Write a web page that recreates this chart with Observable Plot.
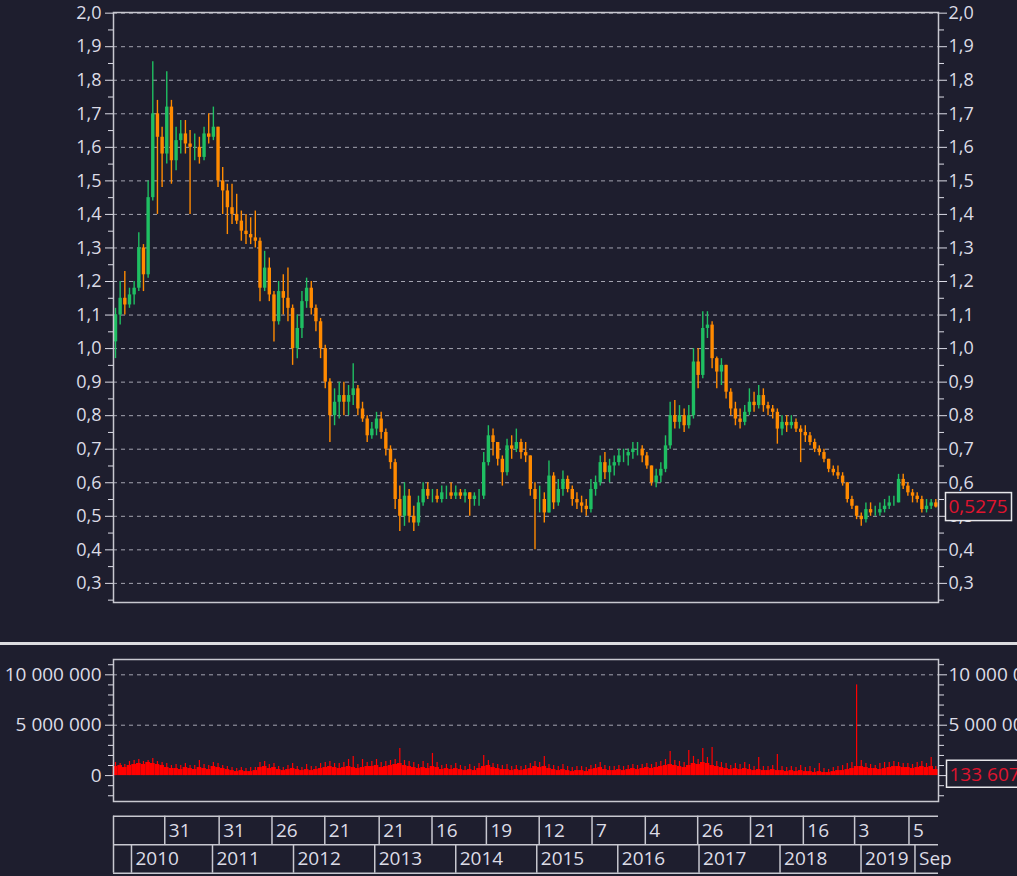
<!DOCTYPE html>
<html><head><meta charset="utf-8">
<script src="https://cdn.jsdelivr.net/npm/d3@7"></script>
<script src="https://cdn.jsdelivr.net/npm/@observablehq/plot@0.6"></script>
<style>
html,body{margin:0;padding:0;background:#1e1e2e;overflow:hidden;}
#root{position:relative;width:1017px;height:876px;background:#1e1e2e;overflow:hidden;}
#root svg{position:absolute;left:0;}
.sep{position:absolute;left:0;top:642px;width:1017px;height:3px;background:#dcdce0;}
</style></head>
<body><div id="root"><div class="sep"></div></div>
<script>
// ---------- data ----------
const startDate = "2009-10-21";   // first bar (3-week bars)
const stepDays = 21;
const open0 = 1.02;
const close = [
1.10,1.15,1.13,1.16,1.18,1.30,1.22,1.45,1.70,1.63,
1.58,1.72,1.56,1.62,1.64,1.61,1.60,1.60,1.57,1.64,
1.63,1.66,1.50,1.47,1.42,1.40,1.38,1.35,1.34,1.33,
1.32,1.18,1.24,1.16,1.08,1.17,1.15,1.12,1.00,1.06,
1.14,1.18,1.12,1.08,1.00,0.90,0.80,0.84,0.86,0.84,
0.86,0.88,0.82,0.79,0.74,0.76,0.79,0.75,0.70,0.66,
0.55,0.50,0.56,0.50,0.48,0.54,0.58,0.56,0.56,0.55,
0.57,0.57,0.56,0.57,0.56,0.57,0.55,0.56,0.56,0.66,
0.74,0.72,0.67,0.63,0.71,0.70,0.72,0.69,0.68,0.58,
0.55,0.55,0.51,0.62,0.54,0.58,0.61,0.58,0.55,0.54,
0.53,0.52,0.58,0.60,0.66,0.63,0.65,0.66,0.68,0.68,
0.69,0.70,0.70,0.68,0.65,0.60,0.62,0.64,0.71,0.80,
0.78,0.80,0.77,0.80,0.96,0.92,1.06,1.07,0.97,0.93,
0.95,0.87,0.82,0.79,0.78,0.81,0.84,0.83,0.86,0.83,
0.82,0.81,0.76,0.78,0.77,0.78,0.76,0.75,0.74,0.72,
0.70,0.69,0.67,0.64,0.63,0.62,0.60,0.55,0.53,0.50,
0.49,0.52,0.51,0.51,0.52,0.53,0.54,0.54,0.61,0.59,
0.57,0.56,0.55,0.52,0.53,0.54,0.5275];
const high = [
1.12,1.20,1.23,1.18,1.20,1.345,1.31,1.50,1.855,1.74,
1.66,1.825,1.74,1.66,1.68,1.68,1.65,1.64,1.63,1.66,
1.70,1.72,1.66,1.54,1.49,1.49,1.46,1.41,1.40,1.39,
1.41,1.33,1.29,1.27,1.17,1.20,1.22,1.24,1.13,1.10,
1.17,1.21,1.20,1.13,1.09,1.01,0.91,0.88,0.90,0.90,
0.89,0.955,0.89,0.84,0.80,0.78,0.81,0.81,0.76,0.71,
0.67,0.59,0.60,0.58,0.53,0.56,0.60,0.60,0.58,0.58,
0.59,0.59,0.60,0.59,0.58,0.58,0.57,0.57,0.58,0.69,
0.77,0.76,0.72,0.68,0.73,0.74,0.76,0.73,0.72,0.68,
0.60,0.59,0.57,0.665,0.63,0.61,0.635,0.62,0.59,0.57,
0.56,0.55,0.61,0.62,0.68,0.69,0.67,0.68,0.70,0.70,
0.70,0.72,0.72,0.71,0.69,0.65,0.64,0.66,0.74,0.84,
0.845,0.83,0.82,0.83,1.00,1.00,1.11,1.11,1.08,0.975,
0.97,0.95,0.88,0.84,0.82,0.83,0.88,0.87,0.89,0.88,
0.84,0.83,0.82,0.80,0.80,0.80,0.79,0.77,0.77,0.75,
0.73,0.71,0.70,0.67,0.65,0.65,0.63,0.60,0.56,0.53,
0.51,0.54,0.54,0.53,0.54,0.55,0.56,0.56,0.625,0.625,
0.60,0.58,0.57,0.56,0.55,0.55,0.55];
const low = [
0.97,1.07,1.10,1.12,1.13,1.17,1.17,1.21,1.44,1.40,
1.48,1.55,1.49,1.53,1.58,1.58,1.40,1.56,1.55,1.56,
1.61,1.62,1.48,1.40,1.34,1.37,1.37,1.32,1.31,1.31,
1.30,1.14,1.17,1.14,1.02,1.07,1.10,1.08,0.95,0.97,
1.03,1.12,1.10,1.05,0.97,0.88,0.72,0.77,0.79,0.80,
0.80,0.83,0.80,0.78,0.72,0.73,0.74,0.73,0.68,0.64,
0.52,0.455,0.47,0.48,0.455,0.47,0.53,0.55,0.54,0.54,
0.54,0.55,0.55,0.55,0.55,0.54,0.50,0.53,0.53,0.55,
0.65,0.68,0.65,0.59,0.62,0.67,0.69,0.67,0.66,0.56,
0.40,0.51,0.48,0.51,0.52,0.53,0.56,0.57,0.53,0.52,
0.51,0.50,0.51,0.56,0.59,0.61,0.60,0.62,0.65,0.66,
0.65,0.67,0.68,0.66,0.64,0.59,0.585,0.60,0.63,0.70,
0.76,0.76,0.75,0.76,0.79,0.88,0.91,1.03,0.94,0.88,
0.89,0.85,0.80,0.77,0.76,0.77,0.80,0.81,0.82,0.81,
0.80,0.79,0.715,0.74,0.75,0.76,0.75,0.66,0.72,0.71,
0.69,0.68,0.66,0.63,0.62,0.61,0.59,0.54,0.52,0.49,
0.47,0.48,0.50,0.50,0.50,0.51,0.52,0.53,0.54,0.58,
0.56,0.54,0.54,0.51,0.51,0.52,0.525];
// volume, millions of shares: typical level and highest day in each bar
const volume = [
0.9,1.0,0.8,1.0,1.1,1.2,1.1,1.3,1.2,1.1,
1.0,0.8,0.7,0.7,0.6,0.8,0.7,0.6,0.8,0.7,
0.6,0.9,0.8,0.7,0.6,0.5,0.4,0.5,0.4,0.4,
0.5,0.8,0.9,0.7,0.8,0.6,0.5,0.6,0.7,0.6,
0.5,0.6,0.5,0.6,0.7,0.8,0.9,0.8,0.7,0.8,
0.9,0.8,0.7,0.8,0.9,0.9,1.0,0.8,0.9,1.0,
1.1,1.2,1.0,0.9,0.8,0.7,0.8,0.7,0.9,0.8,
0.6,0.7,0.6,0.7,0.6,0.5,0.6,0.5,0.7,0.9,
1.0,0.8,0.7,0.6,0.6,0.5,0.6,0.5,0.6,0.7,
0.9,0.8,0.9,0.7,0.6,0.5,0.6,0.5,0.4,0.5,
0.5,0.4,0.6,0.7,0.8,0.6,0.5,0.5,0.6,0.5,
0.6,0.7,0.6,0.7,0.8,0.7,0.8,0.9,1.0,1.1,
1.0,0.9,0.8,1.0,1.2,1.1,1.3,1.2,1.0,0.9,
0.8,0.7,0.6,0.7,0.6,0.7,0.6,0.5,0.6,0.5,
0.5,0.6,0.5,0.5,0.4,0.5,0.4,0.5,0.4,0.4,
0.3,0.4,0.3,0.3,0.4,0.5,0.5,0.6,0.7,0.9,
0.9,0.8,0.7,0.7,0.6,0.7,0.8,0.9,0.9,0.8,
0.8,0.7,0.8,0.9,0.8,0.9,0.6];
const volumePeak = [
1.3,1.2,1.1,1.4,1.5,1.6,1.4,1.5,1.7,1.4,
1.3,1.2,1.0,1.1,1.0,1.2,1.0,1.0,1.5,1.1,
1.0,1.3,1.2,1.0,0.9,0.8,0.7,0.8,0.7,0.8,
0.8,1.3,1.4,1.1,1.2,0.9,0.8,1.0,1.2,0.9,
0.8,1.1,0.9,0.9,1.2,1.3,1.4,1.2,1.2,1.3,
1.6,1.9,1.1,1.6,1.3,1.4,1.6,1.3,1.4,1.5,
1.6,2.7,1.5,1.4,1.3,1.1,1.4,1.2,2.2,1.3,
1.0,1.1,1.0,1.2,1.0,0.9,1.1,0.9,1.2,2.0,
1.5,1.2,1.1,1.0,1.1,0.9,1.0,0.9,1.0,1.2,
1.4,1.3,1.9,1.1,1.0,0.9,1.1,0.9,0.8,0.9,
0.9,0.8,1.0,1.1,1.3,1.0,0.9,0.9,1.0,0.9,
1.0,1.1,1.0,1.1,1.2,1.1,1.3,1.4,1.6,2.4,
1.5,1.4,1.3,2.5,1.9,1.6,2.7,1.8,2.8,1.4,
1.3,1.2,1.0,1.2,1.1,1.3,1.1,0.9,1.8,0.9,
0.9,1.0,2.1,0.9,0.8,0.9,0.8,1.0,0.8,0.9,
0.7,1.2,0.7,0.6,0.8,0.9,1.0,1.2,1.3,9.0,
1.5,1.2,1.1,1.0,1.2,1.3,1.3,1.4,1.3,1.2,
1.2,1.1,1.3,1.4,1.2,1.8,0.9];
const lastVolume = 133607;
const priceTicks = [0.3,0.4,0.5,0.6,0.7,0.8,0.9,1.0,1.1,1.2,1.3,1.4,1.5,1.6,1.7,1.8,1.9,2.0];
const priceMinorTicks = [0.25,0.35,0.45,0.55,0.65,0.75,0.85,0.95,1.05,1.15,1.25,1.35,1.45,1.55,1.65,1.75,1.85,1.95];
const volumeTicks = [0, 5000000, 10000000];
const volumeMinorTicks = [-2000000,-1000000,1000000,2000000,3000000,4000000,6000000,7000000,8000000,9000000,11000000];
const dayTicks = [
  ["2010-05-31","31"],["2011-01-31","31"],["2011-09-26","26"],["2012-05-21","21"],
  ["2013-01-21","21"],["2013-09-16","16"],["2014-05-19","19"],["2015-01-12","12"],
  ["2015-09-07","7"],["2016-05-04","4"],["2016-12-26","26"],["2017-08-21","21"],
  ["2018-04-16","16"],["2018-12-03","3"],["2019-08-05","5"]];
const periodTicks = [
  ["2010-01-01","2010"],["2011-01-01","2011"],["2012-01-01","2012"],["2013-01-01","2013"],
  ["2014-01-01","2014"],["2015-01-01","2015"],["2016-01-01","2016"],["2017-01-01","2017"],
  ["2018-01-01","2018"],["2019-01-01","2019"],["2019-09-01","Sep"]];

// ---------- build ----------
const BG = "#1e1e2e", UP = "#1fbf62", DOWN = "#ff8a00", TXT = "#dcdce6", LINE = "#c8c8d0";
const dt = s => new Date(s + "T00:00:00Z");
const t0 = dt(startDate);
const xDomain = [dt("2009-10-12"), dt("2019-12-16")];
const bars = close.map((c, i) => ({
  date: d3.utcDay.offset(t0, stepDays * i),
  open: i ? close[i - 1] : open0, close: c, high: high[i], low: low[i],
  vol: volume[i] * 1e6, peak: volumePeak[i] * 1e6
}));
bars.forEach(b => b.color = b.close >= b.open ? UP : DOWN);
const fmtP = d => d3.format(".1f")(d).replace(".", ",");
const fmtP4 = d => d3.format(".4f")(d).replace(".", ",");
const fmtV = d => d3.format(",")(d).replace(/,/g, " ");
const style = {background: "transparent", color: TXT, fontFamily: "'Open Sans', sans-serif", fontSize: "18px"};
const common = {width: 1017, marginLeft: 113, marginRight: 79, style};

function valueBox(value, label, left, w, h, fs) {
  return (index, scales) => {
    const y = scales.y(value);
    const g = d3.create("svg:g");
    g.append("rect").attr("x", left).attr("y", y - h / 2).attr("width", w).attr("height", h)
      .attr("fill", BG).attr("stroke", "#e6e6ea").attr("stroke-width", 1.5);
    g.append("text").attr("x", left + 3).attr("y", y).attr("dy", "0.36em")
      .attr("text-anchor", "start")
      .attr("fill", "#e0142e").attr("font-size", fs).text(label);
    return g.node();
  };
}

const price = Plot.plot({
  ...common, height: 614, marginTop: 12, marginBottom: 12,
  x: {type: "utc", domain: xDomain, axis: null},
  y: {domain: [0.243, 2.002], axis: null},
  marks: [
    Plot.gridY(priceTicks, {stroke: "#a4a4b0", strokeOpacity: 1, strokeDasharray: "4,4"}),
    Plot.ruleX(bars, {x: "date", y1: "low", y2: "high", stroke: "color", strokeWidth: 1.4}),
    Plot.ruleX(bars, {x: "date", y1: "open", y2: "close", stroke: "color", strokeWidth: 3.4}),
    Plot.frame({stroke: LINE, strokeWidth: 1.5}),
    Plot.axisY(priceTicks, {anchor: "left", tickSize: 8, tickPadding: 4, tickFormat: fmtP, label: null}),
    Plot.axisY(priceMinorTicks, {anchor: "left", tickSize: 5, tickFormat: () => "", label: null}),
    Plot.axisY(priceTicks, {anchor: "right", tickSize: 8, tickPadding: 2, tickFormat: fmtP, label: null}),
    Plot.axisY(priceMinorTicks, {anchor: "right", tickSize: 5, tickFormat: () => "", label: null}),
    valueBox(close[close.length - 1], fmtP4(close[close.length - 1]), 945.5, 66, 28, 19)
  ]
});
price.style.top = "0px";

const half = stepDays / 2;
const vol = Plot.plot({
  ...common, height: 170, marginTop: 14, marginBottom: 14,
  style: {...style, fontSize: "19px"},
  x: {type: "utc", domain: xDomain, axis: null},
  y: {domain: [-2570000, 11520000], axis: null},
  marks: [
    Plot.gridY(volumeTicks.filter(d => d > 0), {stroke: "#a4a4b0", strokeOpacity: 1, strokeDasharray: "4,4"}),
    Plot.rect(bars, {x1: d => d3.utcHour.offset(d.date, -half * 24), x2: d => d3.utcHour.offset(d.date, half * 24), y1: 0, y2: "vol", fill: "#ff0000"}),
    Plot.ruleX(bars, {x: "date", y1: 0, y2: "peak", stroke: "#ff0000", strokeWidth: 1.2}),
    Plot.frame({stroke: LINE, strokeWidth: 1.5}),
    Plot.axisY(volumeTicks, {anchor: "left", tickSize: 8, tickPadding: 4, tickFormat: fmtV, label: null}),
    Plot.axisY(volumeMinorTicks, {anchor: "left", tickSize: 5, tickFormat: () => "", label: null}),
    Plot.axisY(volumeTicks, {anchor: "right", tickSize: 8, tickPadding: 2, tickFormat: fmtV, label: null}),
    Plot.axisY(volumeMinorTicks, {anchor: "right", tickSize: 5, tickFormat: () => "", label: null}),
    valueBox(lastVolume, fmtV(lastVolume), 946.5, 90, 27, 19)
  ]
});
vol.style.top = "645px";

const dayRows = dayTicks.map(([d, l]) => ({date: dt(d), label: l}));
const perRows = periodTicks.map(([d, l]) => ({date: dt(d), label: l}));
const dates = Plot.plot({
  ...common, height: 60, marginTop: 0, marginBottom: 0,
  style: {...style, fontSize: "19px"},
  x: {type: "utc", domain: xDomain, axis: null},
  y: {domain: [0, 2], range: [1.7, 58.7], axis: null},
  marks: [
    Plot.ruleY([0, 1, 2], {x1: xDomain[0], x2: xDomain[1], stroke: LINE, strokeWidth: 1.5}),
    Plot.ruleX([xDomain[0], ...dayRows.map(d => d.date)], {y1: 0, y2: 1, stroke: LINE, strokeWidth: 1.5}),
    Plot.ruleX([xDomain[0], ...perRows.map(d => d.date)], {y1: 1, y2: 2, stroke: LINE, strokeWidth: 1.5}),
    Plot.text(dayRows, {x: "date", y: 0.5, text: "label", textAnchor: "start", dx: 4, fill: TXT}),
    Plot.text(perRows, {x: "date", y: 1.5, text: "label", textAnchor: "start", dx: 4, fill: TXT})
  ]
});
dates.style.top = "814px";

document.getElementById("root").append(price, vol, dates);
</script>
</body></html>
